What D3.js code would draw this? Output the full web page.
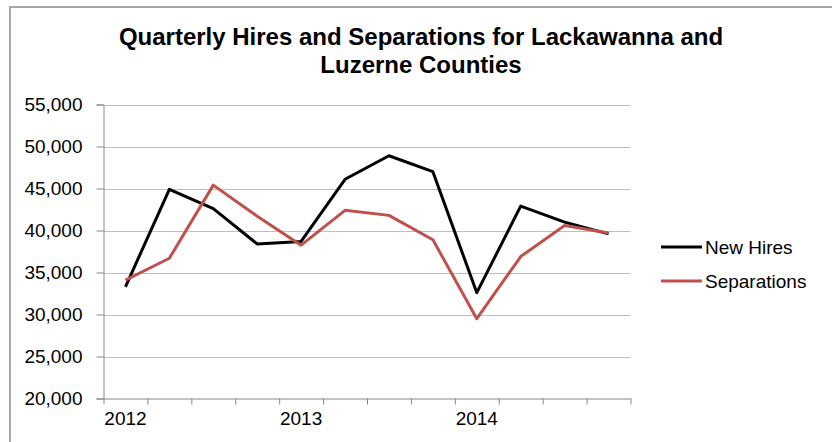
<!DOCTYPE html>
<html>
<head>
<meta charset="utf-8">
<script src="https://cdn.jsdelivr.net/npm/d3@7"></script>
<style>
  html, body { margin: 0; padding: 0; background: #fff; }
  svg { display: block; }
  text { font-family: "Liberation Sans", Arial, sans-serif; fill: #000; }
</style>
</head>
<body>
<svg id="chart" width="832" height="442"></svg>
<script>
// ---- Data ----
const categories = ["2012 Q1","2012 Q2","2012 Q3","2012 Q4","2013 Q1","2013 Q2","2013 Q3","2013 Q4","2014 Q1","2014 Q2","2014 Q3","2014 Q4"];
const xTickLabels = ["2012","","","","2013","","","","2014","","",""];
const newHires = [33300, 44900, 42600, 38400, 38700, 46100, 48900, 47000, 32600, 42900, 41000, 39600];
const separations = [34100, 36700, 45400, 41700, 38250, 42400, 41800, 38900, 29500, 36900, 40600, 39700];
const yTicks = [20000, 25000, 30000, 35000, 40000, 45000, 50000, 55000];
const seriesNames = ["New Hires", "Separations"];
const seriesColors = ["#000000", "#c0504d"];
const titleLines = ["Quarterly Hires and Separations for Lackawanna and", "Luzerne Counties"];

// ---- Layout ----
const svg = d3.select("#chart");
const plot = { left: 103.5, right: 630.5, top: 104.5, bottom: 398.5 };

// chart border (left + top visible)
svg.append("path")
  .attr("d", `M10,442 L10,7 L832,7`)
  .attr("fill", "none")
  .attr("stroke", "#a6a6a6")
  .attr("stroke-width", 2);

// title
svg.append("text")
  .attr("x", 421).attr("y", 44.5)
  .attr("text-anchor", "middle")
  .attr("font-size", 24).attr("font-weight", "bold")
  .selectAll("tspan").data(titleLines).join("tspan")
  .attr("x", 421).attr("dy", (d, i) => i === 0 ? 0 : 28)
  .text(d => d);

const x = d3.scaleBand().domain(categories).range([plot.left, plot.right]).paddingInner(0).paddingOuter(0);
const xEdge = d3.scaleLinear().domain([0, categories.length]).range([plot.left, plot.right]);
const y = d3.scaleLinear().domain([20000, 55000]).range([plot.bottom, plot.top]);

// gridlines
svg.append("g")
  .selectAll("line").data(yTicks.slice(1)).join("line")
  .attr("x1", plot.left).attr("x2", plot.right)
  .attr("y1", d => Math.round(y(d)) + 0.5).attr("y2", d => Math.round(y(d)) + 0.5)
  .attr("stroke", "#bfbfbf").attr("stroke-width", 1);

// y axis
const yAxis = svg.append("g")
  .attr("transform", `translate(${plot.left},0)`)
  .call(d3.axisLeft(y).tickValues(yTicks).tickFormat(d3.format(",")).tickSize(7).tickPadding(14));
yAxis.select(".domain").attr("stroke", "#888");
yAxis.selectAll(".tick line").attr("stroke", "#888");
yAxis.selectAll(".tick text").attr("font-size", 19).attr("font-family", "Liberation Sans, Arial, sans-serif").attr("fill", "#000");

// x axis ticks at band edges
const xTickAxis = svg.append("g")
  .attr("transform", `translate(0,${plot.bottom})`)
  .call(d3.axisBottom(xEdge).tickValues(d3.range(categories.length + 1)).tickFormat("").tickSize(6).tickSizeOuter(0));
xTickAxis.select(".domain").attr("stroke", "#888");
xTickAxis.selectAll(".tick line").attr("stroke", "#888");

// x labels
const xLabelAxis = svg.append("g")
  .attr("transform", `translate(0,${plot.bottom})`)
  .call(d3.axisBottom(x).tickSize(0).tickPadding(13).tickFormat((d, i) => xTickLabels[i]));
xLabelAxis.select(".domain").remove();
xLabelAxis.selectAll(".tick text").attr("font-size", 19).attr("font-family", "Liberation Sans, Arial, sans-serif").attr("fill", "#000");

// lines
const line = d3.line().x((d, i) => x(categories[i]) + x.bandwidth() / 2).y(d => y(d));
[newHires, separations].forEach((series, k) => {
  svg.append("path")
    .datum(series)
    .attr("d", line)
    .attr("fill", "none")
    .attr("stroke", seriesColors[k])
    .attr("stroke-width", 3)
    .attr("stroke-linejoin", "round");
});

// legend
const legend = svg.append("g");
seriesNames.forEach((name, k) => {
  const ly = 247 + k * 34;
  legend.append("line")
    .attr("x1", 661).attr("x2", 702)
    .attr("y1", ly).attr("y2", ly)
    .attr("stroke", seriesColors[k]).attr("stroke-width", 3);
  legend.append("text")
    .attr("x", 705).attr("y", ly + 7)
    .attr("font-size", 19)
    .text(name);
});
</script>
</body>
</html>
